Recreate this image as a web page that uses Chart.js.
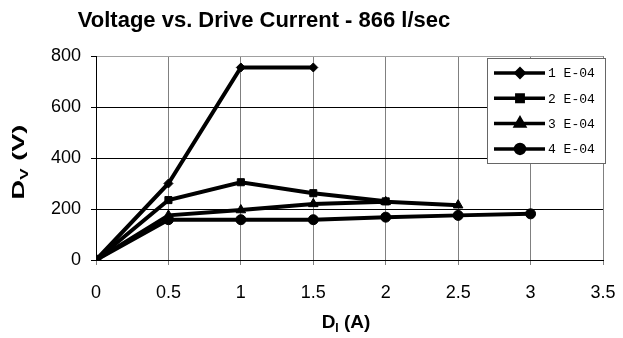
<!DOCTYPE html>
<html>
<head>
<meta charset="utf-8">
<script src="https://cdn.jsdelivr.net/npm/chart.js@4/dist/chart.umd.min.js"></script>
<style>
  html, body { margin: 0; padding: 0; background: #fff; }
  #wrap { width: 623px; height: 338px; }
</style>
</head>
<body>
<div id="wrap"><canvas id="c" width="623" height="338"></canvas></div>
<script>
// Drive current (A) and measured voltage (V) per pressure series
const currents = [0, 0.5, 1, 1.5, 2, 2.5, 3];
const seriesLabels = ['1 E-04', '2 E-04', '3 E-04', '4 E-04'];
const volts1 = [0, 300, 755, 755];
const volts2 = [0, 235, 305, 262, 230];
const volts3 = [0, 175, 196, 220, 228, 215];
const volts4 = [0, 158, 158, 158, 168, 175, 181];
const xTicks = [0, 0.5, 1, 1.5, 2, 2.5, 3, 3.5];
const yTicks = [0, 200, 400, 600, 800];

const titleText = 'Voltage vs. Drive Current - 866 l/sec';
const FONT = '"Liberation Sans", Arial, sans-serif';

function pairs(vals) {
  return vals.map((v, i) => ({ x: currents[i], y: v }));
}

const styles = [
  { pointStyle: 'rectRot', radius: 4.5 },
  { pointStyle: 'rect', radius: 5 },
  { pointStyle: 'triangle', radius: 5.5 },
  { pointStyle: 'circle', radius: 5 }
];
const seriesValues = [volts1, volts2, volts3, volts4];

const datasets = seriesValues.map((vals, i) => ({
  label: seriesLabels[i],
  data: pairs(vals),
  borderColor: '#000',
  backgroundColor: '#000',
  borderWidth: 4,
  pointStyle: styles[i].pointStyle,
  pointRadius: styles[i].radius,
  pointBackgroundColor: '#000',
  pointBorderColor: '#000',
  pointBorderWidth: 1,
  showLine: true,
  tension: 0
}));

// Title, subscripted axis titles and the boxed legend
const decorations = {
  id: 'decorations',
  afterDraw(chart) {
    const ctx = chart.ctx;
    ctx.save();
    ctx.fillStyle = '#000';
    ctx.textBaseline = 'middle';

    // chart title
    ctx.font = 'bold 22px ' + FONT;
    ctx.textAlign = 'center';
    ctx.fillText(titleText, 264, 21);

    // helper: "D" + subscript + rest, centred on (cx, cy)
    function subTitle(main, sub, rest, cx, cy, size, subSize) {
      ctx.textAlign = 'left';
      ctx.font = 'bold ' + size + 'px ' + FONT;
      const w1 = ctx.measureText(main).width;
      const w3 = ctx.measureText(rest).width;
      ctx.font = 'bold ' + subSize + 'px ' + FONT;
      const w2 = ctx.measureText(sub).width;
      let x = cx - (w1 + w2 + w3) / 2;
      ctx.font = 'bold ' + size + 'px ' + FONT;
      ctx.fillText(main, x, cy);
      x += w1;
      ctx.font = 'bold ' + subSize + 'px ' + FONT;
      ctx.fillText(sub, x, cy + size * 0.32);
      x += w2;
      ctx.font = 'bold ' + size + 'px ' + FONT;
      ctx.fillText(rest, x, cy);
    }

    // x axis title
    subTitle('D', 'I', ' (A)', 346, 323, 19, 12);

    // y axis title, rotated and widened along its baseline
    ctx.save();
    ctx.translate(20, 162);
    ctx.rotate(-Math.PI / 2);
    ctx.scale(1.7, 1);
    subTitle('D', 'V', ' (V)', 0, 0, 16, 10);
    ctx.restore();

    // legend box
    const bx = 487.5, by = 58.5, bw = 118, bh = 105;
    ctx.fillStyle = '#fff';
    ctx.fillRect(bx, by, bw, bh);
    ctx.strokeStyle = '#666';
    ctx.lineWidth = 1;
    ctx.strokeRect(bx, by, bw, bh);

    chart.data.datasets.forEach((ds, i) => {
      const ry = 73 + i * 25.3;
      ctx.strokeStyle = '#000';
      ctx.lineWidth = 3.5;
      ctx.beginPath();
      ctx.moveTo(494, ry);
      ctx.lineTo(545, ry);
      ctx.stroke();
      ctx.fillStyle = '#000';
      Chart.helpers.drawPoint(ctx, {
        pointStyle: ds.pointStyle,
        radius: ds.pointRadius - 0.5,
        rotation: 0,
        borderWidth: 1
      }, 520, ry);
      ctx.fillStyle = '#000';
      ctx.font = '13px "Liberation Mono", "Courier New", monospace';
      ctx.textAlign = 'left';
      ctx.fillText(ds.label, 548, ry + 1);
    });
    ctx.restore();
  }
};

new Chart(document.getElementById('c'), {
  type: 'line',
  data: { datasets },
  options: {
    responsive: false,
    animation: false,
    devicePixelRatio: 1,
    layout: { padding: { top: 56, right: 20, left: 0, bottom: 0 } },
    plugins: {
      legend: { display: false },
      title: { display: false },
      tooltip: { enabled: false }
    },
    scales: {
      x: {
        type: 'linear',
        min: 0,
        max: 3.5,
        afterBuildTicks: s => { s.ticks = xTicks.map(v => ({ value: v })); },
        afterFit: s => { s.height = 78; s.paddingLeft = 0; s.paddingRight = 0; },
        ticks: {
          color: '#000',
          font: { family: FONT, size: 18 },
          padding: 17,
          maxRotation: 0,
          callback: v => String(v)
        },
        grid: {
          color: '#808080',
          lineWidth: 1,
          tickLength: 5,
          tickColor: '#808080'
        },
        border: { display: true, color: '#000', width: 1 }
      },
      y: {
        type: 'linear',
        min: 0,
        max: 800,
        afterBuildTicks: s => { s.ticks = yTicks.map(v => ({ value: v })); },
        afterFit: s => { s.width = 96; s.paddingTop = 0; s.paddingBottom = 0; },
        ticks: {
          color: '#000',
          font: { family: FONT, size: 18 },
          padding: 10,
          callback: v => String(v)
        },
        grid: {
          color: c => (c.tick && c.tick.value === 800) ? '#a0a0a0' : '#000',
          lineWidth: 1,
          tickLength: 5,
          tickColor: '#000'
        },
        border: { display: true, color: '#000', width: 1 }
      }
    }
  },
  plugins: [decorations]
});
</script>
</body>
</html>
